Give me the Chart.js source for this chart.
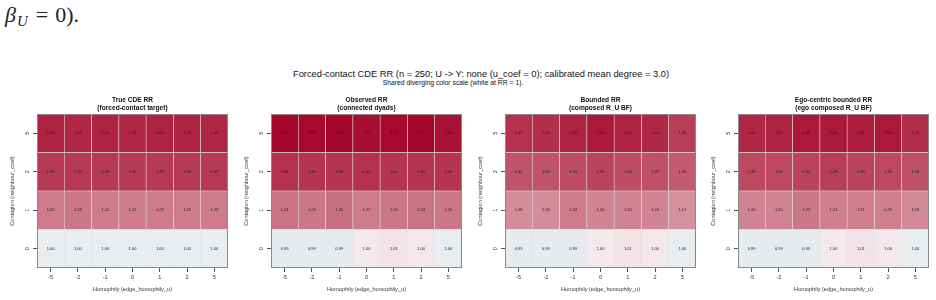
<!DOCTYPE html>
<html>
<head>
<meta charset="utf-8">
<script src="https://cdn.jsdelivr.net/npm/chart.js@4.4.1/dist/chart.umd.min.js"></script>
<style>
  html, body { margin: 0; padding: 0; background: #fff; }
  #page { position: relative; width: 936px; height: 300px; overflow: hidden; font-family: "Liberation Sans", Arial, sans-serif; }
  .eq { position: absolute; left: 5px; top: 4px; font-family: "Liberation Serif", serif; font-size: 22px; line-height: 22px; color: #222; white-space: nowrap; }
  .eq sub { font-size: 15px; vertical-align: -4px; margin-left: 1px; }
  .eq .op { display: inline-block; margin: 0 7px 0 8px; }
  .main-title { position: absolute; top: 69px; left: 0; width: 962px; text-align: center; font-size: 9.3px; line-height: 11px; color: #111; }
  .sub-title { position: absolute; top: 78.5px; left: 0; width: 906px; text-align: center; font-size: 6.8px; line-height: 8px; color: #111; }
  canvas { position: absolute; top: 92px; }
</style>
</head>
<body>
<div id="page">
  <div class="eq"><i>β<sub>U</sub></i><span class="op">=</span>0).</div>
  <div class="main-title">Forced-contact CDE RR (n = 250; U -&gt; Y: none (u_coef = 0); calibrated mean degree = 3.0)</div>
  <div class="sub-title">Shared diverging color scale (white at RR = 1).</div>
  <canvas id="p0" width="234" height="208" style="left:0px"></canvas>
  <canvas id="p1" width="234" height="208" style="left:234px"></canvas>
  <canvas id="p2" width="234" height="208" style="left:468px"></canvas>
  <canvas id="p3" width="234" height="208" style="left:701px"></canvas>
</div>
<script>
// x categories and y rows (bottom row first)
const homophily = ['-5', '-2', '-1', '0', '1', '2', '5'];
const contagion = ['0', '1', '2', '5'];

const panelTitles = [
  ['True CDE RR', '(forced-contact target)'],
  ['Observed RR', '(connected dyads)'],
  ['Bounded RR', '(composed R_U BF)'],
  ['Ego-centric bounded RR', '(ego composed R_U BF)']
];

// rows: contagion 0, 1, 2, 5
const trueRR = [
  [0.999, 0.999, 0.999, 0.999, 0.999, 0.999, 0.999],
  [1.22, 1.23, 1.22, 1.22, 1.22, 1.22, 1.22],
  [1.39, 1.39, 1.39, 1.39, 1.39, 1.39, 1.39],
  [1.45, 1.44, 1.45, 1.44, 1.45, 1.45, 1.44]
];
const observedRR = [
  [0.99, 0.99, 0.99, 1.003, 1.01, 1.004, 0.998],
  [1.24, 1.23, 1.25, 1.22, 1.23, 1.24, 1.23],
  [1.41, 1.40, 1.40, 1.41, 1.40, 1.40, 1.40],
  [1.53, 1.52, 1.53, 1.51, 1.52, 1.53, 1.50]
];
const boundedRR = [
  [0.99, 0.99, 0.99, 1.003, 1.01, 1.004, 0.998],
  [1.18, 1.18, 1.22, 1.20, 1.20, 1.20, 1.17],
  [1.32, 1.32, 1.34, 1.36, 1.34, 1.33, 1.30],
  [1.41, 1.42, 1.45, 1.48, 1.45, 1.44, 1.38]
];
const egoRR = [
  [0.99, 0.99, 0.99, 1.003, 1.01, 1.004, 0.998],
  [1.20, 1.20, 1.23, 1.21, 1.21, 1.21, 1.19],
  [1.35, 1.35, 1.36, 1.38, 1.36, 1.35, 1.33],
  [1.44, 1.45, 1.48, 1.48, 1.47, 1.48, 1.42]
];

const panels = [trueRR, observedRR, boundedRR, egoRR];

Chart.defaults.font.family = '"Liberation Sans", Arial, sans-serif';
Chart.defaults.color = '#333';

function mix(a, b, t) {
  return 'rgb(' + a.map((c, i) => Math.round(c + (b[i] - c) * t)).join(',') + ')';
}

function cellColor(v) {
  if (v >= 1) {
    const t = Math.pow(Math.min((v - 1) / 0.55, 1), 0.8);
    return mix([244, 237, 238], [163, 0, 36], t);
  }
  const t = Math.min((1 - v) / 0.55, 1);
  return mix([233, 237, 240], [33, 102, 172], t);
}

// cell text, plot box and rotated y tick labels
const heatExtras = {
  id: 'heatExtras',
  afterDatasetsDraw(chart) {
    const ctx = chart.ctx;
    const area = chart.chartArea;
    ctx.save();
    ctx.font = '4px "Liberation Sans", Arial, sans-serif';
    ctx.fillStyle = '#222';
    ctx.textAlign = 'center';
    ctx.textBaseline = 'middle';
    chart.data.datasets.forEach((ds, i) => {
      chart.getDatasetMeta(i).data.forEach((bar, j) => {
        ctx.fillText(ds.values[j].toFixed(2), bar.x, (bar.y + bar.base) / 2);
      });
    });

    ctx.strokeStyle = '#8a8a8a';
    ctx.lineWidth = 1;
    ctx.strokeRect(area.left + 0.5, area.top + 0.5, area.right - area.left - 1, area.bottom - area.top - 1);

    const y = chart.scales.y;
    ctx.font = '5.5px "Liberation Sans", Arial, sans-serif';
    ctx.fillStyle = '#333';
    y.ticks.forEach(t => {
      ctx.save();
      ctx.translate(area.left - 10, y.getPixelForValue(t.value));
      ctx.rotate(-Math.PI / 2);
      ctx.fillText(contagion[t.value], 0, 0);
      ctx.restore();
    });
    ctx.restore();
  }
};

function makePanel(id, title, rows) {
  const datasets = rows.map((row, r) => ({
    data: row.map(() => [r - 0.5, r + 0.5]),
    values: row,
    backgroundColor: row.map(cellColor),
    borderColor: 'rgba(222,222,222,0.8)',
    borderWidth: 0.6,
    borderSkipped: false,
    barPercentage: 1,
    categoryPercentage: 1,
    grouped: false
  }));

  return new Chart(document.getElementById(id), {
    type: 'bar',
    data: { labels: homophily, datasets: datasets },
    options: {
      responsive: false,
      animation: false,
      layout: { padding: { left: 0, right: 6, top: 0, bottom: 0 } },
      plugins: {
        legend: { display: false },
        tooltip: { enabled: false },
        title: {
          display: true,
          text: title,
          fullSize: false,
          color: '#111',
          font: { size: 6.6, weight: 'bold' },
          padding: { top: 4, bottom: 2.2 }
        }
      },
      scales: {
        x: {
          type: 'category',
          offset: true,
          grid: { offset: false, drawOnChartArea: false, tickLength: 4, color: '#555' },
          border: { display: false },
          ticks: { font: { size: 5.6 }, color: '#333', padding: 2.5, maxRotation: 0, autoSkip: false },
          title: {
            display: true,
            text: 'Homophily (edge_homophily_u)',
            color: '#333',
            font: { size: 5.6 },
            padding: { top: 0, bottom: 7 }
          },
          afterFit(s) { s.height = 32; }
        },
        y: {
          type: 'linear',
          min: -0.5,
          max: 3.5,
          afterBuildTicks(s) { s.ticks = contagion.map((c, i) => ({ value: i })); },
          grid: { drawOnChartArea: false, tickLength: 4, color: '#555' },
          border: { display: false },
          ticks: { display: false },
          title: {
            display: true,
            text: 'Contagion (neighbour_coef)',
            color: '#333',
            font: { size: 5.6 },
            padding: { top: 9, bottom: 0 }
          },
          afterFit(s) { s.width = 37; }
        }
      }
    },
    plugins: [heatExtras]
  });
}

panels.forEach((rows, i) => makePanel('p' + i, panelTitles[i], rows));
</script>
</body>
</html>
